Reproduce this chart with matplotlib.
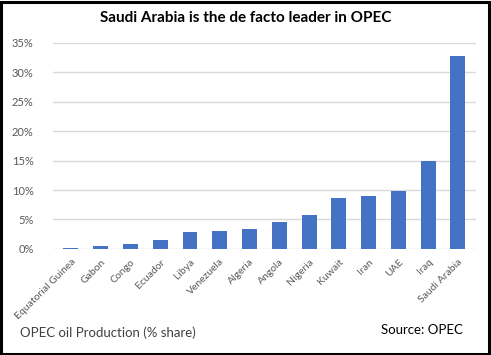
import matplotlib.pyplot as plt
from matplotlib.patches import Rectangle
from matplotlib.ticker import PercentFormatter

countries = ['Equatorial Guinea', 'Gabon', 'Congo', 'Ecuador', 'Libya', 'Venezuela', 'Algeria',
             'Angola', 'Nigeria', 'Kuwait', 'Iran', 'UAE', 'Iraq', 'Saudi Arabia']
share = [0.2, 0.5, 0.8, 1.5, 2.9, 3.1, 3.3, 4.6, 5.7, 8.7, 8.9, 9.9, 15.0, 32.8]

plt.rcParams['font.family'] = ['Lato', 'DejaVu Sans']

fig = plt.figure(figsize=(4.91, 3.55), dpi=100)
ax = fig.add_axes([0.108, 0.299, 0.861, 0.58])

ax.bar(range(len(countries)), share, width=0.5, color='#4472C4', zorder=3)
ax.set_ylim(0, 35)
ax.set_xlim(-0.6, len(countries) - 0.4)
ax.set_yticks(range(0, 36, 5))
ax.yaxis.set_major_formatter(PercentFormatter(decimals=0))
ax.grid(axis='y', color='#D9D9D9', linewidth=1, zorder=0)
ax.set_xticks(range(len(countries)))
ax.set_xticklabels(countries, rotation=45, ha='right', rotation_mode='anchor')
ax.tick_params(axis='both', length=0, labelsize=8, colors='#595959')
ax.tick_params(axis='x', pad=6, labelsize=7.5)
ax.tick_params(axis='y', pad=14)
for s in ax.spines.values():
    s.set_visible(False)

fig.text(0.5, 0.95, 'Saudi Arabia is the de facto leader in OPEC', ha='center', va='center',
         fontsize=11, fontweight='bold', color='black')
fig.text(0.041, 0.062, 'OPEC oil Production (% share)', ha='left', va='center',
         fontsize=9.5, color='#404040')
fig.text(0.775, 0.07, 'Source: OPEC', ha='left', va='center', fontsize=9.5, color='black')

fig.patches.append(Rectangle((0.002, 0.003), 0.994, 0.992, transform=fig.transFigure,
                             fill=False, edgecolor='black', linewidth=2.2))

fig.savefig('out.png', dpi=100)
